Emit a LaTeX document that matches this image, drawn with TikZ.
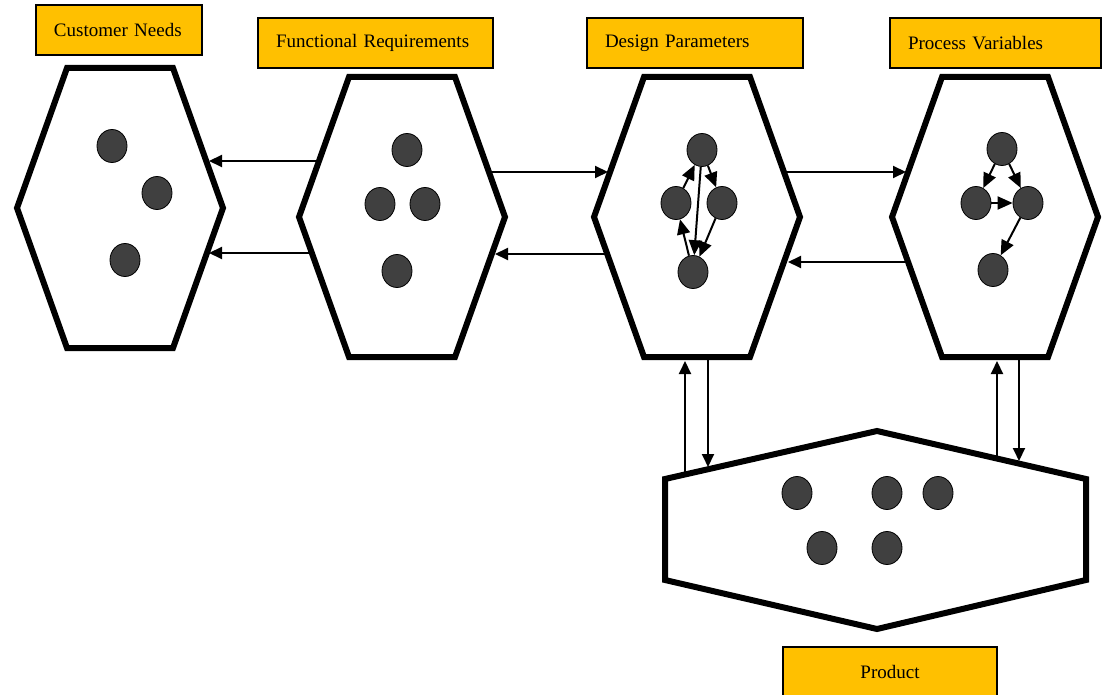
\documentclass[tikz,border=0pt]{standalone}
\usepackage{fontspec}
\setmainfont{Liberation Serif}
\usepackage{tikz}
\usetikzlibrary{arrows.meta,shapes.geometric}
\definecolor{labelgold}{HTML}{FFC000}
\definecolor{dotgrey}{HTML}{404040}

\begin{document}
\begin{tikzpicture}[x=0.5pt, y=-0.5pt,
  hexa/.style={line width=3pt},
  dot/.style={ellipse, draw=black, line width=0.4pt, fill=dotgrey, minimum width=15pt, minimum height=16.5pt, inner sep=0pt},
  lbl/.style={draw=black, line width=1pt, fill=labelgold, minimum height=25pt, inner xsep=9pt, inner ysep=0pt, align=left, font=\fontsize{9.5}{11}\selectfont},
  conn/.style={line width=1pt, -{Triangle[length=6.5pt, width=6pt]}},
  link/.style={line width=1pt, -{Triangle[length=7.5pt, width=6.5pt]}}]
\useasboundingbox (0,0) rectangle (1103,695);

\foreach \cx/\cy in {120/208, 402/217, 697/217, 995/217}
  \draw[hexa] (\cx-53,\cy-140) -- (\cx+53,\cy-140) -- (\cx+103,\cy) -- (\cx+53,\cy+140) -- (\cx-53,\cy+140) -- (\cx-103,\cy) -- cycle;
\draw[hexa] (665,479) -- (877,431) -- (1086,479) -- (1086,580) -- (877,629) -- (665,580) -- cycle;

\path (119,30) node (cnlbl) [lbl, text width=65pt] {Customer Needs};
\path (375.5,43) node (frlbl) [lbl, text width=99.5pt] {Functional Requirements};
\path (695,43) node (dplbl) [lbl, text width=90pt] {Design Parameters};
\path (995.5,43) node (pvlbl) [lbl, text width=87.5pt] {Process Variables};
\path (890,672) node (prlbl) [lbl, text width=89pt, align=center] {Product};

\path (112,146) node (cn1) [dot] {};
\path (157,193) node (cn2) [dot] {};
\path (125,260) node (cn3) [dot] {};

\path (407,150) node (fr1) [dot] {};
\path (380,204) node (fr2) [dot] {};
\path (425,204) node (fr3) [dot] {};
\path (397,271) node (fr4) [dot] {};

\path (702,150) node (dp1) [dot] {};
\path (676,203) node (dp2) [dot] {};
\path (722,203) node (dp3) [dot] {};
\path (693,272) node (dp4) [dot] {};

\path (1002,149) node (pv1) [dot] {};
\path (976,203) node (pv2) [dot] {};
\path (1028,203) node (pv3) [dot] {};
\path (993,270) node (pv4) [dot] {};

\path (797,493) node (pr1) [dot] {};
\path (887,493) node (pr2) [dot] {};
\path (938,493) node (pr3) [dot] {};
\path (822,548) node (pr4) [dot] {};
\path (887,548) node (pr5) [dot] {};

\draw[link] (dp2) -- (dp1);
\draw[link] (dp1) -- (dp3);
\draw[link] (dp1) -- (dp4);
\draw[link] (dp3) -- (dp4);
\draw[link] (dp4) -- (dp2);

\draw[link] (pv1) -- (pv2);
\draw[link] (pv1) -- (pv3);
\draw[link] (pv2) -- (pv3);
\draw[link] (pv3) -- (pv4);

\path (319,161) coordinate (fr-w1);
\path (209,161) coordinate (cn-e1);
\path (312,253) coordinate (fr-w2);
\path (209,253) coordinate (cn-e2);
\path (488,172) coordinate (fr-e1);
\path (608,172) coordinate (dp-w1);
\path (608,254) coordinate (dp-w2);
\path (495,254) coordinate (fr-e2);
\path (783,172) coordinate (dp-e1);
\path (906,172) coordinate (pv-w1);
\path (909,262) coordinate (pv-w2);
\path (788,262) coordinate (dp-e2);
\path (685,474) coordinate (pr-a);
\path (685,361) coordinate (dp-s1);
\path (708,357) coordinate (dp-s2);
\path (708,467) coordinate (pr-b);
\path (997,458) coordinate (pr-c);
\path (997,361) coordinate (pv-s1);
\path (1019,357) coordinate (pv-s2);
\path (1019,461) coordinate (pr-d);

\draw[conn] (fr-w1) -- (cn-e1);
\draw[conn] (fr-w2) -- (cn-e2);
\draw[conn] (fr-e1) -- (dp-w1);
\draw[conn] (dp-w2) -- (fr-e2);
\draw[conn] (dp-e1) -- (pv-w1);
\draw[conn] (pv-w2) -- (dp-e2);
\draw[conn] (pr-a) -- (dp-s1);
\draw[conn] (dp-s2) -- (pr-b);
\draw[conn] (pr-c) -- (pv-s1);
\draw[conn] (pv-s2) -- (pr-d);
\end{tikzpicture}
\end{document}
